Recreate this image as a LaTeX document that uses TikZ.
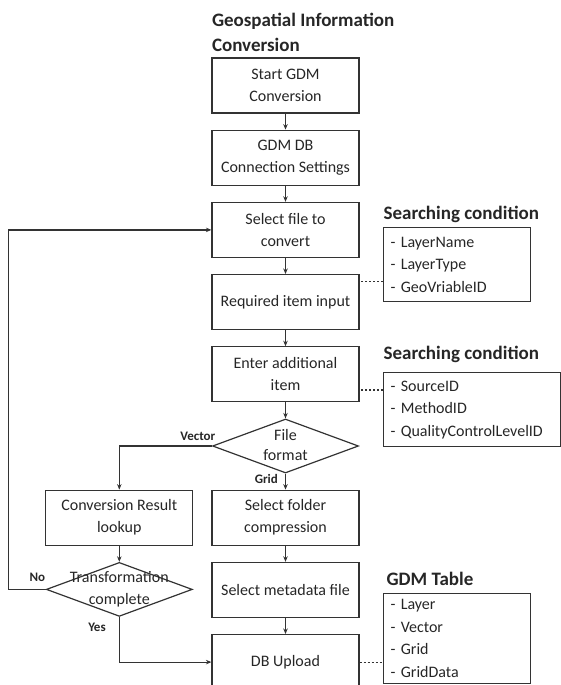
\documentclass[tikz,border=0pt]{standalone}
\usepackage{fontspec}
\setmainfont{Carlito}
\usetikzlibrary{calc,chains,arrows.meta,positioning,shapes.geometric}

\begin{document}
\begin{tikzpicture}[x=1pt, y=1pt,
    proc/.style={rectangle, draw, minimum width=147pt, minimum height=55pt,
            align=center, inner sep=2pt},
    decision/.style={diamond, draw, minimum width=146pt, minimum height=54pt,
            inner sep=0pt},
    cond/.style={rectangle, draw, align=left, inner xsep=7pt,
            font=\fontsize{16}{22.5}\selectfont},
    head/.style={font=\fontsize{19}{25}\selectfont\bfseries, align=left, inner sep=0pt},
    tag/.style={font=\fontsize{13}{15}\selectfont\bfseries, inner sep=1pt},
    link/.style={dash pattern=on 2.5pt off 1.5pt},
    every node/.append style={text=black!85},
    font=\fontsize{16}{22}\selectfont,
    line width=1.2pt, draw=black!80,
    >={Stealth[length=5.5pt,width=4.5pt]}, start chain=going below, node distance=16pt]

  \useasboundingbox (0,0) rectangle (561,-685);

  % main column
  \node[proc, on chain] (start) at (285.5,-85.5) {Start GDM\\Conversion};
  \node[proc, on chain] (dbset) {GDM DB\\Connection Settings};
  \node[proc, on chain] (select) {Select file to\\convert};
  \node[proc, on chain] (required) {Required item input};
  \node[proc, on chain] (additional) {Enter additional\\item};
  \node[decision, on chain] (fmt) {};
  \node[align=center, font=\fontsize{16}{20}\selectfont] (fmtText) at ($(fmt)+(0,1)$) {File\\format};
  \node[proc, on chain] (folder) {Select folder\\compression};
  \node[proc, on chain] (meta) {Select metadata file};
  \node[proc, on chain] (upload) {DB Upload};

  % vector branch
  \node[proc, left=18pt of folder] (lookup) {Conversion Result\\lookup};
  \node[decision, below=16pt of lookup] (trans) {};
  \node[align=center] (transText) at (trans) {Transformation\\complete};

  \node[head, anchor=south west] (title) at ($(start.north west)+(0,5)$)
      {Geospatial Information\\Conversion};

  % side tables
  \node[cond, text width=133pt, minimum height=74pt, anchor=north west] (cond1)
      at (383,-227) {- LayerName\\- LayerType\\- GeoVriableID};
  \node[cond, text width=163pt, minimum height=74pt, anchor=north west] (cond2)
      at (383,-372) {- SourceID\\- MethodID\\- QualityControlLevelID};
  \node[cond, text width=133pt, minimum height=90pt, anchor=north west] (cond3)
      at (383,-593) {- Layer\\- Vector\\- Grid\\- GridData};

  \node[head, anchor=base west] (cond1Title) at ($(cond1.north west)+(0,8)$) {Searching condition};
  \node[head, anchor=base west] (cond2Title) at ($(cond2.north west)+(0,13)$) {Searching condition};
  \node[head, anchor=base west] (cond3Title) at ($(cond3.north west)+(3,8)$) {GDM Table};

  % arrows
  \foreach \a/\b in {start/dbset, dbset/select, select/required, required/additional,
      additional/fmt, folder/meta, meta/upload, lookup/trans}
    \draw[->] (\a) -- (\b);
  \draw[->] (fmt.south) -- (folder.north)
      node[tag, pos=0.1, anchor=north east, xshift=-6pt, yshift=2pt] {Grid};
  \draw[->] (fmt.west) -| (lookup.north)
      node[tag, pos=0, anchor=south east, xshift=5pt, yshift=4pt] {Vector};
  \draw[->] (trans.west) node[tag, anchor=south east, xshift=1pt, yshift=6pt] {No}
      -- ++(-37pt,0) |- (select.west);
  \draw[->] (trans.south) |- (upload.west)
      node[tag, pos=0, anchor=north east, xshift=-12pt, yshift=-4pt] {Yes};

  % dashed links to tables
  \coordinate (c1) at ($(cond1.south west)!.28!(cond1.north west)$);
  \coordinate (c2) at ($(cond2.south west)!.76!(cond2.north west)$);
  \draw[link] (c1) -- (c1 -| required.east);
  \draw[link] (c2) -- (c2 -| additional.east);
  \draw[link] (upload.east) -- (upload.east -| cond3.west);
\end{tikzpicture}
\end{document}
